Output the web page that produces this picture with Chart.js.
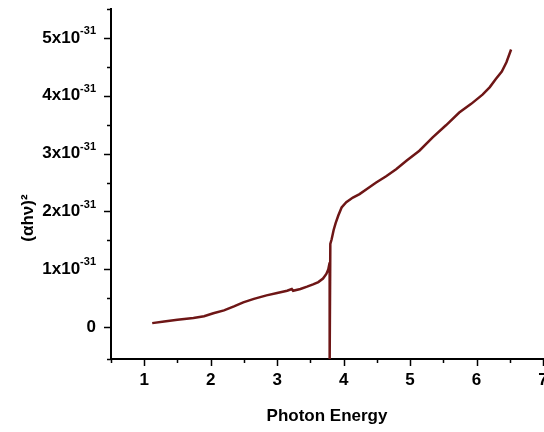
<!DOCTYPE html>
<html>
<head>
<meta charset="utf-8">
<script src="https://cdn.jsdelivr.net/npm/chart.js@4/dist/chart.umd.min.js"></script>
<style>
  html, body { margin: 0; padding: 0; background: #fff; }
  #box { width: 544px; height: 432px; }
</style>
</head>
<body>
<div id="box"><canvas id="grafico"></canvas></div>
<script>
// Photon energy (x) and (αhν)^2 in units of 1e-31 (y)
const energia = [1.12, 1.3, 1.5, 1.74, 1.9, 2.04, 2.2, 2.35, 2.49, 2.65, 2.84, 3.0, 3.15, 3.22, 3.24,
  3.35, 3.45, 3.54, 3.62, 3.69, 3.74, 3.77, 3.79, 3.79, 3.80, 3.82, 3.85, 3.88, 3.92, 3.97, 4.04,
  4.14, 4.24, 4.35, 4.49, 4.64, 4.79, 4.95, 5.14, 5.34, 5.54, 5.74, 5.92, 6.09, 6.20, 6.29, 6.38,
  6.45, 6.52];
const alfaHv2 = [0.07, 0.10, 0.13, 0.16, 0.19, 0.24, 0.29, 0.36, 0.43, 0.49, 0.55, 0.59, 0.63, 0.66, 0.63,
  0.66, 0.70, 0.74, 0.78, 0.84, 0.92, 1.00, 1.12, -0.60, 1.44, 1.52, 1.68, 1.80, 1.93, 2.07, 2.16,
  2.24, 2.30, 2.39, 2.50, 2.61, 2.73, 2.88, 3.05, 3.28, 3.49, 3.71, 3.86, 4.02, 4.15, 4.29, 4.42,
  4.58, 4.80];
const xTicks = [1, 2, 3, 4, 5, 6, 7];
const yTicks = [0, 1, 2, 3, 4, 5];
const expoente = '-31';

const fonte = '"Liberation Sans", Arial, sans-serif';

// desenha ticks, rótulos (com expoente) e títulos dos eixos
const eixosPlugin = {
  id: 'eixos',
  afterDraw(chart) {
    const ctx = chart.ctx;
    const xs = chart.scales.x, ys = chart.scales.y;
    const area = chart.chartArea;
    ctx.save();
    ctx.strokeStyle = '#000';
    ctx.fillStyle = '#000';
    ctx.lineWidth = 1.5;

    // ticks do eixo y
    ys.ticks.forEach(t => {
      const py = Math.round(ys.getPixelForValue(t.value)) + 0.5;
      const maior = Math.abs(t.value - Math.round(t.value)) < 1e-6;
      ctx.beginPath();
      ctx.moveTo(area.left, py);
      ctx.lineTo(area.left - (maior ? 7 : 4), py);
      ctx.stroke();
    });
    // ticks do eixo x
    xs.ticks.forEach(t => {
      const px = Math.round(xs.getPixelForValue(t.value)) + 0.5;
      const maior = Math.abs(t.value - Math.round(t.value)) < 1e-6;
      ctx.beginPath();
      ctx.moveTo(px, area.bottom);
      ctx.lineTo(px, area.bottom + (maior ? 7 : 4));
      ctx.stroke();
    });

    // rótulos y
    ctx.textBaseline = 'middle';
    yTicks.forEach(v => {
      const py = ys.getPixelForValue(v);
      const xr = area.left - 15;
      if (v === 0) {
        ctx.font = 'bold 17px ' + fonte;
        ctx.textAlign = 'right';
        ctx.fillText('0', xr, py);
        return;
      }
      ctx.font = 'bold 11px ' + fonte;
      const ws = ctx.measureText(expoente).width;
      ctx.textAlign = 'left';
      ctx.fillText(expoente, xr - ws, py - 7);
      ctx.font = 'bold 17px ' + fonte;
      ctx.textAlign = 'right';
      ctx.fillText(v + 'x10', xr - ws, py);
    });

    // rótulos x
    ctx.font = 'bold 17px ' + fonte;
    ctx.textAlign = 'center';
    xTicks.forEach(v => {
      ctx.fillText(String(v), xs.getPixelForValue(v), area.bottom + 21);
    });

    // títulos
    ctx.font = 'bold 17px ' + fonte;
    ctx.fillText(xs.options.title.text, (area.left + area.right) / 2, 416);
    ctx.translate(28, 218);
    ctx.rotate(-Math.PI / 2);
    ctx.fillText(ys.options.title.text, 0, 0);
    ctx.restore();
  }
};

const ctx = document.getElementById('grafico').getContext('2d');
const grafico = new Chart(ctx, {
  type: 'line',
  data: {
    datasets: [{
      data: energia.map((e, i) => ({ x: e, y: alfaHv2[i] })),
      borderColor: '#6e1616',
      borderWidth: 2.5,
      pointRadius: 0,
      tension: 0,
      fill: false
    }]
  },
  options: {
    responsive: true,
    maintainAspectRatio: false,
    animation: false,
    layout: { padding: { top: 9, right: 1, left: 0, bottom: 0 } },
    plugins: { legend: { display: false }, tooltip: { enabled: false } },
    scales: {
      x: {
        type: 'linear',
        min: 0.5,
        max: 7,
        ticks: { display: false, stepSize: 0.5 },
        grid: { display: false },
        border: { display: true, color: '#000', width: 2 },
        title: { display: false, text: 'Photon Energy' },
        afterFit(s) { s.height = 73; s.paddingLeft = 0; s.paddingRight = 0; }
      },
      y: {
        type: 'linear',
        min: -0.55,
        max: 5.5,
        ticks: { display: false, stepSize: 0.5 },
        grid: { display: false },
        border: { display: true, color: '#000', width: 2 },
        title: { display: false, text: '(αhν)²' },
        afterFit(s) { s.width = 111; s.paddingTop = 0; s.paddingBottom = 0; }
      }
    }
  },
  plugins: [eixosPlugin]
});
</script>
</body>
</html>
